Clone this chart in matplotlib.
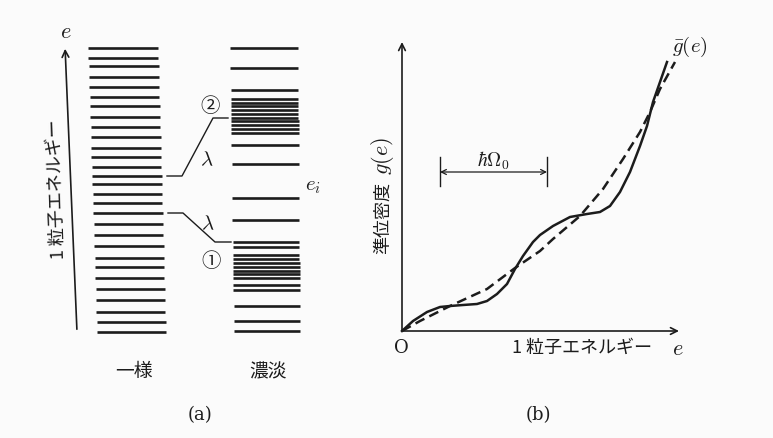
import matplotlib
matplotlib.use("Agg")
import matplotlib.pyplot as plt

plt.rcParams["font.family"] = ["Noto Sans CJK JP", "DejaVu Sans"]
plt.rcParams["mathtext.fontset"] = "cm"

INK = "#1c1c1c"

# (a) single-particle levels, energy in arbitrary units
uniform_levels = [0.0, 1.0, 2.0, 3.2, 4.3, 5.4, 6.5, 7.4, 8.6, 9.7, 10.8, 11.9,
                  12.9, 13.8, 14.8, 15.6, 16.5, 17.5, 18.4, 19.5, 20.5, 21.5,
                  22.6, 23.5, 24.5, 25.5, 26.6, 27.4, 28.4]
shell_levels = [0.1, 1.1, 2.6,
                4.2, 4.7, 5.4, 5.8, 6.1, 6.5, 6.9, 7.3, 7.7, 8.5, 9.0,
                11.2, 13.4, 16.8, 18.7,
                19.9, 20.3, 20.7, 21.1, 21.4, 21.8, 22.2, 22.6, 22.9, 23.3,
                24.2, 26.4, 28.4]
# which uniform level is pushed to which bunched level
link_from = [15.6, 11.9]
link_to = [21.4, 9.0]

# (b) level density vs single-particle energy
g_e = [0.00, 0.11, 0.25, 0.38, 0.48, 0.61, 0.75, 0.85, 0.95, 1.05, 1.13, 1.21,
       1.31, 1.38, 1.51, 1.68, 1.85, 1.98, 2.08, 2.18, 2.28, 2.38, 2.45, 2.51,
       2.58, 2.65]
g_val = [0.00, 0.10, 0.19, 0.24, 0.25, 0.26, 0.27, 0.30, 0.37, 0.47, 0.62, 0.75,
         0.89, 0.96, 1.05, 1.14, 1.17, 1.19, 1.25, 1.39, 1.59, 1.85, 2.05, 2.29,
         2.49, 2.69]
gbar_e = [0.00, 0.18, 0.48, 0.85, 1.13, 1.38, 1.51, 1.78, 2.01, 2.21, 2.38,
          2.48, 2.58, 2.73]
gbar_val = [0.00, 0.10, 0.25, 0.42, 0.63, 0.80, 0.92, 1.15, 1.42, 1.72, 1.99,
            2.19, 2.42, 2.69]
hw_start, hw_end = 0.38, 1.45


fig = plt.figure(figsize=(7.73, 4.39), dpi=100)
fig.patch.set_facecolor("#fbfbfb")

# ── panel (a) ────────────────────────────────────────
ax_a = fig.add_axes([0, 0, 1, 1])
ax_a.set_xlim(0, 773)
ax_a.set_ylim(-10.6, 33.3)
ax_a.axis("off")

top = max(uniform_levels)
for e in uniform_levels:
    s = (top - e) / top  # slight slant of the printed column
    ax_a.plot([88 + 9 * s, 158 + 8 * s], [e, e], color=INK, lw=1.9,
              solid_capstyle="butt")
for e in shell_levels:
    s = (top - e) / top
    ax_a.plot([230 + 4 * s, 298 + 2 * s], [e, e], color=INK, lw=1.9,
              solid_capstyle="butt")

ax_a.plot([167, 182, 213, 228], [link_from[0], link_from[0], link_to[0], link_to[0]],
          color=INK, lw=1.0)
ax_a.plot([168, 183, 215, 231], [link_from[1], link_from[1], link_to[1], link_to[1]],
          color=INK, lw=1.0)

ax_a.annotate("", xy=(65, 28.6), xytext=(77, 0.0),
              arrowprops=dict(arrowstyle="->", color=INK, lw=1.2,
                              mutation_scale=12))
ax_a.text(66, 30.1, "$e$", fontsize=16, ha="center", va="center", color=INK)
ax_a.text(56, 14.4, "1 粒子エネルギー", fontsize=13, rotation=92,
          ha="center", va="center", color=INK)

ax_a.text(210, 22.6, "②", fontsize=14, ha="center", va="center", color=INK)
ax_a.text(211, 7.1, "①", fontsize=14, ha="center", va="center", color=INK)
ax_a.text(207, 17.4, r"$\lambda$", fontsize=15, ha="center", va="center", color=INK)
ax_a.text(208, 11.0, r"$\lambda$", fontsize=15, ha="center", va="center", color=INK)
ax_a.text(313, 14.8, "$e_i$", fontsize=15, ha="center", va="center", color=INK)

ax_a.text(134, -3.9, "一様", fontsize=13.5, ha="center", va="center", color=INK)
ax_a.text(268, -3.9, "濃淡", fontsize=13.5, ha="center", va="center", color=INK)
ax_a.text(200, -8.2, "(a)", fontsize=13, ha="center", va="center", color=INK,
          family="DejaVu Serif")

# ── panel (b) ────────────────────────────────────────
ax_b = fig.add_axes([0, 0, 1, 1])
ax_b.set_xlim(-4.02, 3.71)
ax_b.set_ylim(-1.07, 3.32)
ax_b.axis("off")
ax_b.patch.set_alpha(0)

ax_b.annotate("", xy=(2.77, 0), xytext=(0, 0),
              arrowprops=dict(arrowstyle="->", color=INK, lw=1.2,
                              mutation_scale=12, shrinkA=0, shrinkB=0))
ax_b.annotate("", xy=(0, 2.89), xytext=(0, 0),
              arrowprops=dict(arrowstyle="->", color=INK, lw=1.2,
                              mutation_scale=12, shrinkA=0, shrinkB=0))

ax_b.plot(gbar_e, gbar_val, color=INK, lw=1.8, ls=(0, (4, 2.2)))
ax_b.plot(g_e, g_val, color=INK, lw=1.8, solid_joinstyle="round")

# ħΩ0 period marker
ax_b.annotate("", xy=(hw_start, 1.59), xytext=(hw_end, 1.59),
              arrowprops=dict(arrowstyle="<->", color=INK, lw=0.9,
                              mutation_scale=9, shrinkA=0, shrinkB=0))
for x in (hw_start, hw_end):
    ax_b.plot([x, x], [1.45, 1.74], color=INK, lw=1.0)
ax_b.text((hw_start + hw_end) / 2, 1.71, r"$\hbar\Omega_0$", fontsize=14,
          ha="center", va="center", color=INK)

ax_b.text(-0.01, -0.16, "O", fontsize=13, ha="center", va="center", color=INK,
          family="DejaVu Serif")
ax_b.text(1.10, -0.16, "1 粒子エネルギー", fontsize=13, ha="left",
          va="center", color=INK)
ax_b.text(2.76, -0.17, "$e$", fontsize=16, ha="center", va="center", color=INK)
ax_b.text(-0.19, 1.14, "準位密度", fontsize=13, rotation=90,
          ha="center", va="center", color=INK)
ax_b.text(-0.19, 1.76, "$g(e)$", fontsize=16, rotation=90,
          ha="center", va="center", color=INK)
ax_b.text(2.88, 2.85, r"$\bar{g}(e)$", fontsize=15, ha="center", va="center",
          color=INK)
ax_b.text(1.36, -0.83, "(b)", fontsize=13, ha="center", va="center", color=INK,
          family="DejaVu Serif")

fig.savefig("out.png", dpi=100, facecolor=fig.get_facecolor())
